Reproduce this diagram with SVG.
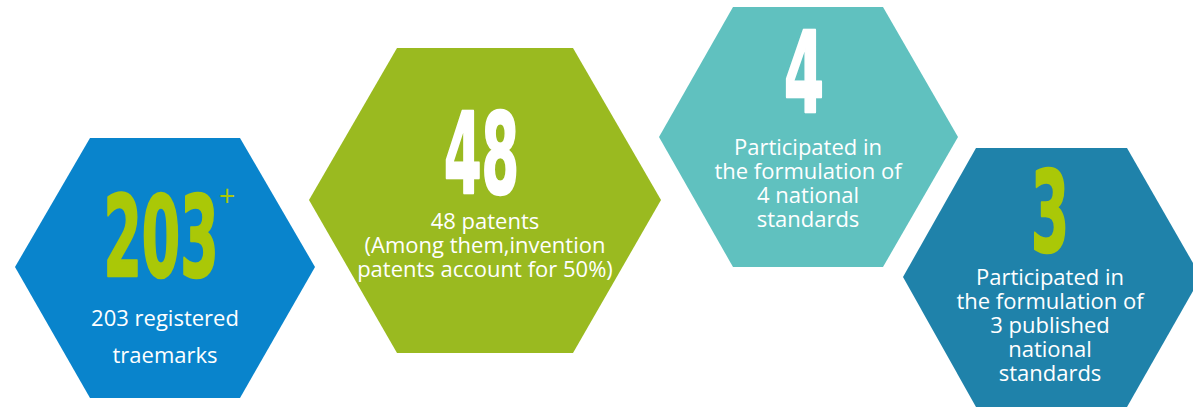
<svg xmlns="http://www.w3.org/2000/svg" width="1193" height="408" viewBox="0 0 1193 408">
<style>
.big{font-family:"Liberation Sans Narrow","DejaVu Sans Condensed","Liberation Sans",sans-serif;font-weight:bold;font-size:112px;text-anchor:middle;stroke-width:2.4px;stroke-linejoin:round}
.lbl{font-family:"Open Sans","Noto Sans",sans-serif;font-size:22px;fill:#ffffff;text-anchor:middle}
.green{fill:#aac807;stroke:#aac807}
.white{fill:#ffffff;stroke:#ffffff}
.plus{font-family:"Open Sans","Noto Sans",sans-serif;font-size:29px;fill:#aac807;text-anchor:middle}
</style>
<rect width="1193" height="408" fill="#ffffff"/>
<g id="node-trademarks">
<polygon points="15,267 90,138 240,138 315,267 240,398 90,398" fill="#0984cc"/>
<text class="big green" x="161" y="276" textLength="115" lengthAdjust="spacingAndGlyphs">203</text>
<text class="plus" x="227" y="206">+</text>
<text class="lbl" x="165" y="326">203 registered</text>
<text class="lbl" x="165" y="363">traemarks</text>
</g>
<g id="node-patents">
<polygon points="309,200 397,48 573,48 661,200 573,353 397,353" fill="#9aba20"/>
<text class="big white" x="481.5" y="193" textLength="75" lengthAdjust="spacingAndGlyphs">48</text>
<text class="lbl" x="485" y="229" font-size="21">48 patents</text>
<text class="lbl" x="485" y="253" font-size="21">(Among them,invention</text>
<text class="lbl" x="485" y="277" font-size="21">patents account for 50%)</text>
</g>
<g id="node-standards">
<polygon points="659,137 733,7 883,7 958,137 883,267 733,267" fill="#60c1bf"/>
<text class="big white" x="804" y="112" textLength="40" lengthAdjust="spacingAndGlyphs">4</text>
<text class="lbl" x="808" y="155">Participated in</text>
<text class="lbl" x="808" y="179">the formulation of</text>
<text class="lbl" x="808" y="203">4 national</text>
<text class="lbl" x="808" y="227">standards</text>
</g>
<g id="node-published">
<polygon points="903,277 976,148 1127,148 1201,277 1127,407 976,407" fill="#1f82aa"/>
<text class="big green" x="1050" y="251" textLength="38" lengthAdjust="spacingAndGlyphs">3</text>
<text class="lbl" x="1050" y="285">Participated in</text>
<text class="lbl" x="1050" y="309">the formulation of</text>
<text class="lbl" x="1050" y="333">3 published</text>
<text class="lbl" x="1050" y="357">national</text>
<text class="lbl" x="1050" y="381">standards</text>
</g>
<g id="connectors"></g>
</svg>
